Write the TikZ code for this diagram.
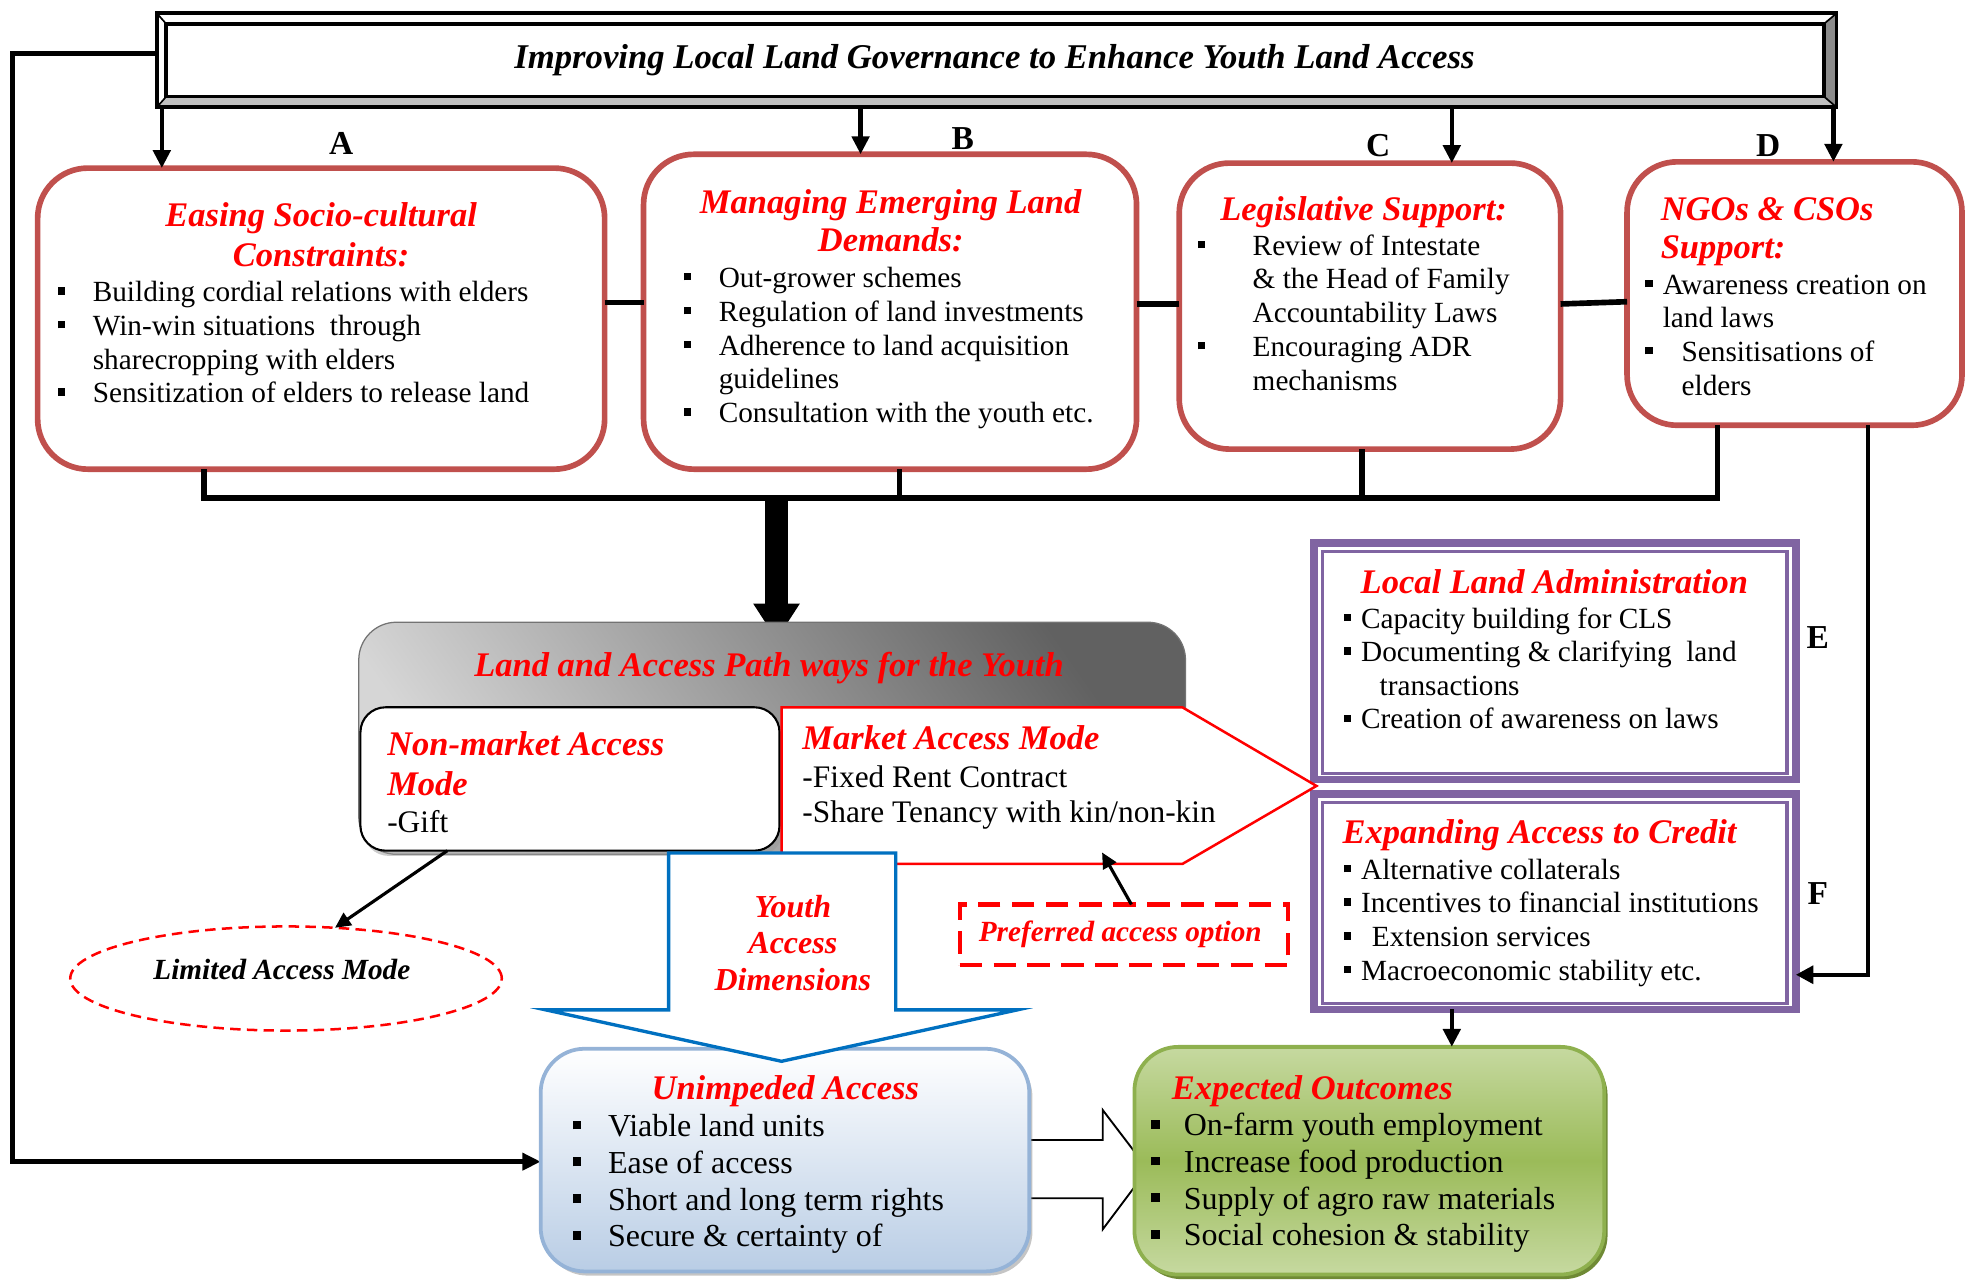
\documentclass[tikz,border=0pt]{standalone}
\usepackage{fontspec}
\setmainfont{Liberation Serif}
\usetikzlibrary{arrows.meta,fit,shapes.geometric,shadows}
\definecolor{boxred}{HTML}{C0504D}
\definecolor{tred}{HTML}{FF0000}
\definecolor{purp}{HTML}{8064A2}
\definecolor{blu}{HTML}{0070C0}
\definecolor{ublue}{HTML}{95B3D7}
\definecolor{ufill}{HTML}{B9CDE5}
\definecolor{gtop}{HTML}{C6D9A0}
\definecolor{gmid}{HTML}{9BBB59}
\definecolor{gedge}{HTML}{8EB04E}
\definecolor{gshadow}{HTML}{6F8A35}
\newcommand\bsq{\rule[3.3pt]{3.6pt}{3.6pt}}
\newcommand\bsqb{\rule[3.4pt]{4.2pt}{4.2pt}}
\newcommand\bitem[2]{\hbox to #1{\bsq\hss}#2}
\newcommand\bitemb[2]{\hbox to #1{\bsqb\hss}#2}
\newcommand\citem[2]{\hbox to #1{\hss}#2}
\newcommand\vlinesl[2]{\vtop{\baselineskip=#1\lineskiplimit=-100pt\halign{##\hfil\cr#2\crcr}}}
\newcommand\vlinesc[2]{\vtop{\baselineskip=#1\lineskiplimit=-100pt\halign{\hfil##\hfil\cr#2\crcr}}}
\begin{document}
\begin{tikzpicture}[x=0.6pt,y=-0.6pt,
  every node/.style={inner sep=0pt,outer sep=0pt},
  rbox/.style={draw=boxred, line width=2.7pt, rounded corners=24pt, fill=white},
  ttl/.style={font=\fontsize{16.5}{18.8}\selectfont\bfseries\itshape, text=tred},
  bodyt/.style={font=\fontsize{14}{16.1}\selectfont},
  bodyl/.style={font=\fontsize{15.3}{17.6}\selectfont},
  lbl/.style={font=\fontsize{16}{18}\selectfont\bfseries},
  arr/.style={line width=2.2pt, -{Triangle[length=8.6pt,width=8.2pt]}},
  thk/.style={line width=2.6pt},
  fb/.style={line width=2.1pt},
  arrthin/.style={line width=1.5pt, -{Triangle[length=7.5pt,width=7pt]}},
  pbox/.style={draw=purp, line width=3.6pt, fill=white},
]
\useasboundingbox (0,0) rectangle (1568,1021.1);

% ---------- title frame ----------
\fill[white] (125,10.6) rectangle (1464,85.5);
\fill[black!25] (125,85.5) -- (132.5,77) -- (1454,77) -- (1464,85.5) -- cycle;
\fill[black!45] (1454,77) -- (1454,19) -- (1464,10.6) -- (1464,85.5) -- cycle;
\node[draw, line width=1.8pt, fit={(125,10.6) (1464,85.5)}] (title) {};
\draw[line width=1.8pt] (132.5,19) rectangle (1454,77);
\draw[line width=0.8pt] (125,10.6) -- (132.5,19) (125,85.5) -- (132.5,77)
  (1464,10.6) -- (1454,19) (1464,85.5) -- (1454,77);
\node[anchor=base, font=\fontsize{16.6}{19}\selectfont\bfseries\itshape] (titletext) at (792.7,54.5)
  {Improving Local Land Governance to Enhance Youth Land Access};

% ---------- coordinates for connectors ----------
\coordinate (xA) at (129,0);
\coordinate (xB) at (686,0);
\coordinate (xC) at (1157.3,0);
\coordinate (xD) at (1461.5,0);
\coordinate (hAB) at (0,241);
\coordinate (hBC) at (0,242.5);
\coordinate (hC) at (0,242.3);
\coordinate (hD) at (0,240.5);
\coordinate (brk) at (0,396.8);
\coordinate (bA) at (162.5,0);
\coordinate (bB) at (717,0);
\coordinate (bC) at (1085.7,0);
\coordinate (bD) at (1368.9,0);
\coordinate (bM) at (619,0);
\coordinate (bigtip) at (619,510.2);
\coordinate (fbA) at (10,42.5);
\coordinate (fbB) at (10,926);
\coordinate (dfX) at (1489,777);
\coordinate (efX) at (1157.3,0);
\coordinate (nmX) at (356.6,0);
\coordinate (pX) at (901.9,0);
\coordinate (pref) at (878.5,679.5);

% ---------- top boxes ----------
\node[rbox, fit={(30,134) (482,374)}] (A) {};
\node[rbox, fit={(513,123) (906,374)}] (B) {};
\node[rbox, fit={(940,130) (1244,358)}] (C) {};
\node[rbox, fit={(1297,129) (1564,339)}] (D) {};

\node[ttl, anchor=base] (Atitle) at (256,180.7) {\vlinesc{19.2pt}{Easing Socio-cultural\cr Constraints:}};
\node[bodyt, anchor=base west] (Abody) at (46,240.5) {\vlinesl{16.1pt}{%
  \bitem{16.8pt}{Building cordial relations with elders}\cr
  \bitem{16.8pt}{Win-win situations \ through}\cr
  \citem{16.8pt}{sharecropping with elders}\cr
  \bitem{16.8pt}{Sensitization of elders to release land}}};

\node[ttl, anchor=base] (Btitle) at (710,170) {\vlinesc{18.4pt}{Managing Emerging Land\cr Demands:}};
\node[bodyt, anchor=base west] (Bbody) at (545,229) {\vlinesl{16.2pt}{%
  \bitem{16.8pt}{Out-grower schemes}\cr
  \bitem{16.8pt}{Regulation of land investments}\cr
  \bitem{16.8pt}{Adherence to land acquisition}\cr
  \citem{16.8pt}{guidelines}\cr
  \bitem{16.8pt}{Consultation with the youth etc.}}};

\node[ttl, anchor=base] (Ctitle) at (1087,175.4) {Legislative Support:};
\node[bodyt, anchor=base west] (Cbody) at (954.6,203.3) {\vlinesl{16.14pt}{%
  \bitem{26.4pt}{Review of Intestate}\cr
  \citem{26.4pt}{\& the Head of Family}\cr
  \citem{26.4pt}{Accountability Laws}\cr
  \bitem{26.4pt}{Encouraging ADR}\cr
  \citem{26.4pt}{mechanisms}}};

\node[ttl, anchor=base west] (Dtitle) at (1323.9,175.4) {\vlinesl{18.3pt}{NGOs \& CSOs\cr Support:}};
\node[bodyt, anchor=base west] (Dbody) at (1311.5,234.4) {\vlinesl{16.1pt}{%
  \bitem{8.4pt}{Awareness creation on}\cr
  \citem{8.4pt}{land laws}\cr
  \bitem{17.4pt}{Sensitisations of}\cr
  \citem{17.4pt}{elders}}};

\node[lbl, anchor=base] (lA) at (272,122.8) {A};
\node[lbl, anchor=base] (lB) at (767.5,118.8) {B};
\node[lbl, anchor=base] (lC) at (1098.7,124.4) {C};
\node[lbl, anchor=base] (lD) at (1409.5,124.4) {D};

% arrows from title
\draw[arr] (title.south -| xA) -- (A.north -| xA);
\draw[arr] (title.south -| xB) -- (B.north -| xB);
\draw[arr] (title.south -| xC) -- (C.north -| xC);
\draw[arr] (title.south -| xD) -- (D.north -| xD);

% horizontal links
\draw[line width=2.7pt] (A.east |- hAB) -- (B.west |- hAB);
\draw[line width=2.7pt] (B.east |- hBC) -- (C.west |- hBC);
\draw[line width=2.7pt] (C.east |- hC) -- (D.west |- hD);

% bottom bracket
\draw[thk] (A.south -| bA) -- (bA |- brk) -- (bD |- brk) -- (D.south -| bD);
\draw[thk] (B.south -| bB) -- (bB |- brk);
\draw[thk] (C.south -| bC) -- (bC |- brk);

% feedback line to Unimpeded Access
\draw[fb, -{Triangle[length=8.7pt,width=8pt]}] (title.west |- fbA) -- (fbA) -- (fbB) -- (431,926);

% ---------- E and F ----------
\node[pbox, fit={(1047.5,433) (1431.5,621.5)}] (E) {};
\draw[purp, line width=1.5pt] ([shift={(7,6.5)}]E.north west) rectangle ([shift={(-7,-5)}]E.south east);
\node[pbox, fit={(1047.5,633) (1431.5,804.6)}] (F) {};
\draw[purp, line width=1.5pt] ([shift={(7,6.5)}]F.north west) rectangle ([shift={(-7,-5)}]F.south east);

\node[ttl, anchor=base] (Etitle) at (1239,472.7) {Local Land Administration};
\node[bodyt, anchor=base west] (Ebody) at (1071,500.6) {\vlinesl{16.1pt}{%
  \bitem{8.4pt}{Capacity building for CLS}\cr
  \bitem{8.4pt}{Documenting \& clarifying \ land}\cr
  \citem{17.3pt}{transactions}\cr
  \bitem{8.4pt}{Creation of awareness on laws}}};
\node[ttl, anchor=base] (Ftitle) at (1227.3,672) {Expanding Access to Credit};
\node[bodyt, anchor=base west] (Fbody) at (1071,700.8) {\vlinesl{16.1pt}{%
  \bitem{8.4pt}{Alternative collaterals}\cr
  \bitem{8.4pt}{Incentives to financial institutions}\cr
  \bitem{13.6pt}{Extension services}\cr
  \bitem{8.4pt}{Macroeconomic stability etc.}}};
\node[lbl, anchor=base] (lE) at (1449,516.9) {E};
\node[lbl, anchor=base] (lF) at (1449,721) {F};

% D to F
\draw[fb, -{Triangle[length=8.4pt,width=8.4pt]}] (D.south -| dfX) -- (dfX) -- (F.east |- dfX);

% ---------- big arrow ----------
\draw[line width=10.8pt, -{Triangle[length=17.4pt,width=21pt]}] (bM |- brk) -- (bigtip);

% ---------- gray pathways box ----------
\node[fit={(286,496) (945,681)}, rounded corners=18pt, draw=black!55, line width=0.6pt,
  top color=black!62, bottom color=black!16, shading angle=-55] (G) {};
\node[ttl, anchor=base] (Gtitle) at (613,539.4) {Land and Access Path ways for the Youth};

\node[fit={(287.3,563.8) (621.4,678.1)}, rounded corners=12pt, draw=black, line width=1pt, fill=white,
  drop shadow={shadow xshift=1.5pt, shadow yshift=-2.5pt, fill=black!40}] (NM) {};
\node[ttl, anchor=base west] (NMtitle) at (308.7,602.6) {\vlinesl{18.7pt}{Non-market Access\cr Mode}};
\node[font=\fontsize{15}{17}\selectfont, anchor=base west] (NMbody) at (308.7,663.7) {-Gift};

\draw[draw=tred, line width=1.2pt, fill=white] (623,563.8) -- (942.5,563.8) -- (1049.4,626.5)
  -- (942.5,688.7) -- (623,688.7) -- cycle;
\node[ttl, anchor=base west] (MKtitle) at (639.7,597.5) {Market Access Mode};
\node[font=\fontsize{15}{17}\selectfont, anchor=base west] (MKbody) at (639.7,627.5)
  {\vlinesl{17.1pt}{-Fixed Rent Contract\cr -Share Tenancy with kin/non-kin}};

% ---------- block arrow U -> X ----------
\draw[line width=0.9pt, fill=white] (800,908.7) -- (879,908.7) -- (879,884.8) -- (915,932)
  -- (879,980) -- (879,955.2) -- (800,955.2);

% ---------- Unimpeded Access ----------
\node[fit={(431,836) (820.5,1013.5)}, rounded corners=21pt, draw=ublue, line width=1.8pt,
  top color=white, bottom color=ufill,
  drop shadow={shadow xshift=1.5pt, shadow yshift=-2pt, fill=black!45}] (U) {};
\node[ttl, anchor=base] (Utitle) at (626,876.8) {Unimpeded Access};
\begin{scope}
\clip (431,836) rectangle (820,1001.5);
\node[bodyl, anchor=base west] (Ubody) at (456.4,906) {\vlinesl{17.6pt}{%
  \bitemb{17pt}{Viable land units}\cr
  \bitemb{17pt}{Ease of access}\cr
  \bitemb{17pt}{Short and long term rights}\cr
  \bitemb{17pt}{Secure \& certainty of}}};
\end{scope}

% ---------- Expected Outcomes ----------
\node[fit={(904.3,834.5) (1278.8,1016)}, rounded corners=21pt, draw=gedge, line width=1.8pt,
  top color=gtop, bottom color=gtop, middle color=gmid,
  drop shadow={shadow xshift=1.6pt, shadow yshift=-2.2pt, fill=gshadow, opacity=1}] (X) {};
\node[ttl, anchor=base west] (Xtitle) at (934.2,876.3) {Expected Outcomes};
\node[bodyl, anchor=base west] (Xbody) at (917.4,905.5) {\vlinesl{17.5pt}{%
  \bitemb{15.8pt}{On-farm youth employment}\cr
  \bitemb{15.8pt}{Increase food production}\cr
  \bitemb{15.8pt}{Supply of agro raw materials}\cr
  \bitemb{15.8pt}{Social cohesion \& stability}}};

\draw[arr] (F.south -| efX) -- (X.north -| efX);

% ---------- Youth Access Dimensions arrow ----------
\draw[draw=blu, line width=1.6pt, fill=white] (533,680) -- (714,680) -- (714,805) -- (811,805)
  -- (623,846) -- (435,805) -- (533,805) -- cycle;
\node[font=\fontsize{15.3}{17.6}\selectfont\bfseries\itshape, text=tred, anchor=base] (Ytext) at (632,731.2)
  {\vlinesc{17.55pt}{Youth\cr Access\cr Dimensions}};

% ---------- Limited Access Mode ----------
\node[ellipse, draw=tred, line width=1.2pt, dash pattern=on 5pt off 3pt,
  minimum width=206.4pt, minimum height=49.8pt] (L) at (228,780) {};
\node[font=\fontsize{14}{16}\selectfont\bfseries\itshape, anchor=base] (Ltext) at (224.7,780.7) {Limited Access Mode};
\draw[arrthin] (NM.south -| nmX) -- (L.46);

% ---------- Preferred access option ----------
\node[fit={(765,721) (1027,769.5)}, draw=tred, line width=2pt, dash pattern=on 10.8pt off 5.4pt] (P) {};
\node[font=\fontsize{14}{16}\selectfont\bfseries\itshape, text=tred, anchor=base] (Ptext) at (893,750.3) {Preferred access option};
\draw[arrthin] (P.north -| pX) -- (pref);

\end{tikzpicture}
\end{document}
